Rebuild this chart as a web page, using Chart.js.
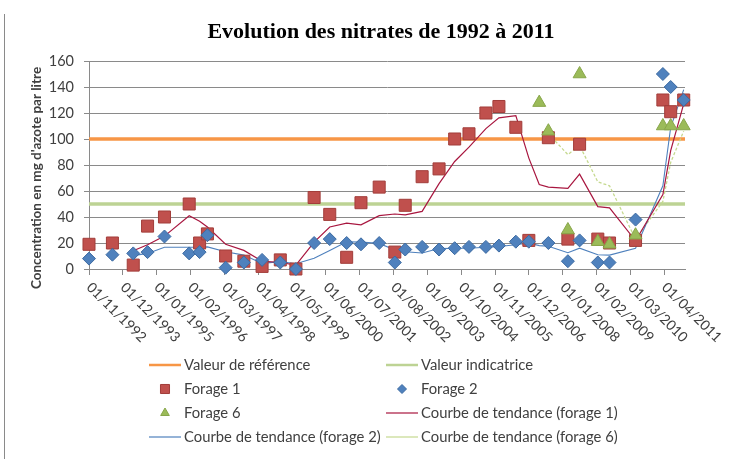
<!DOCTYPE html>
<html lang="fr">
<head>
<meta charset="utf-8">
<title>Evolution des nitrates de 1992 à 2011</title>
<script src="https://cdn.jsdelivr.net/npm/chart.js@4.4.1/dist/chart.umd.min.js"></script>
<style>
  body { margin: 0; background: #fff; }
  #cadre { position: relative; width: 743px; height: 459px; }
  #cadre::before { content: ""; position: absolute; left: 4px; top: 14px; bottom: 0; width: 1px; background: #8a8a8a; }
</style>
</head>
<body>
<div id="cadre"><canvas id="graphique" width="743" height="459"></canvas></div>
<script>
// Evolution des nitrates de 1992 à 2011
// axe X : nombre de mois écoulés depuis le 01/11/1992

const titre = "Evolution des nitrates de 1992 à 2011";
const titreY = "Concentration en mg d'azote par litre";

const etiquettesX = ["01/11/1992", "01/12/1993", "01/01/1995", "01/02/1996", "01/03/1997", "01/04/1998",
  "01/05/1999", "01/06/2000", "01/07/2001", "01/08/2002", "01/09/2003", "01/10/2004",
  "01/11/2005", "01/12/2006", "01/01/2008", "01/02/2009", "01/03/2010", "01/04/2011"];
const finAxeX = 229; // fin de l'axe, un peu après le 01/04/2011

const valeurReference = 100;
const valeurIndicatrice = 50;

// forages 1 et 2 : prélevés aux mêmes dates
const moisF12 = [0, 9, 17, 22.5, 29, 38.5, 42.5, 45.5, 52.5, 59.5, 66.5, 73.5, 79.5, 86.5, 92.5, 99,
  104.5, 111.5, 117.5, 121.5, 128, 134.5, 140.5, 146, 152.5, 157.5, 164, 169, 176.5, 184, 188.5,
  195.5, 200, 210, 220.5, 223.5, 228.5];
const forage1 = [19, 20, 3, 33, 40, 50, 20, 27, 10, 6, 2, 7, 0, 55, 42, 9, 51, 63, 13, 49, 71, 77,
  100, 104, 120, 125, 109, 22, 101, 23, 96, 23, 20, 22, 130, 121, 130];
const forage2 = [8, 11, 12, 13, 25, 12, 13, 26, 1, 5, 7, 5, 0, 20, 23, 20, 19, 20, 5, 15, 17, 15,
  16, 17, 17, 18, 21, 21, 20, 6, 22, 5, 5, 38, 150, 140, 130];

const moisF6 = [173, 176.5, 184, 188.5, 195.5, 200, 210, 220.5, 223.5, 228.5];
const forage6 = [128, 106, 30, 150, 21, 19, 26, 110, 110, 110];

// courbes de tendance (moyennes mobiles)
const moisTendance12 = [17, 22.5, 29, 38.5, 42.5, 45.5, 52.5, 59.5, 66.5, 73.5, 79.5, 86.5, 92.5, 99,
  104.5, 111.5, 117.5, 121.5, 128, 134.5, 140.5, 146, 152.5, 157.5, 164, 169, 173, 176.5, 184, 188.5,
  195.5, 200, 210, 220.5, 223.5, 228.5];
const tendance1 = [14, 18.7, 25.3, 41, 36.7, 32.3, 19, 14.3, 6, 5, 3, 20.7, 32.3, 35.3, 34, 41, 42.3,
  41.7, 44.3, 65.7, 82.7, 93.7, 108, 116.3, 118, 85.3, 65, 63, 62, 73, 48, 47, 21.7, 57.3, 91, 127];
const tendance2 = [10.3, 12, 16.7, 16.7, 16.7, 17, 13.3, 10.7, 4.3, 5.7, 4, 8.3, 14.3, 21, 20.7, 19.7,
  14.7, 13.3, 12.3, 15.7, 16, 16, 16.7, 17.3, 18.7, 20, 18, 17.5, 12.5, 16, 11, 10.7, 16, 64, 109, 138];
const moisTendance6 = [176.5, 184, 188.5, 195.5, 200, 210, 220.5, 223.5, 228.5];
const tendance6 = [104, 88, 95, 67, 64, 23, 52, 82, 106];

function points(xs, ys) {
  return ys.map((y, i) => ({ x: xs[i], y: y }));
}

// mois depuis le 01/11/1992 pour une date jj/mm/aaaa
function moisDepuisDebut(date) {
  const morceaux = date.split("/");
  return (Number(morceaux[2]) - 1992) * 12 + Number(morceaux[1]) - 11;
}
const moisEtiquettes = etiquettesX.map(moisDepuisDebut);

const gris = "#8a8a8a";
const texte = "#404040";

const jeux = [
  {
    label: "Valeur de référence",
    data: [{ x: 0, y: valeurReference }, { x: finAxeX, y: valeurReference }],
    showLine: true, borderColor: "#f79646", borderWidth: 3.5, pointRadius: 0, order: 7
  },
  {
    label: "Valeur indicatrice",
    data: [{ x: 0, y: valeurIndicatrice }, { x: finAxeX, y: valeurIndicatrice }],
    showLine: true, borderColor: "#bdd394", borderWidth: 3.5, pointRadius: 0, order: 8
  },
  {
    label: "Forage 1",
    data: points(moisF12, forage1),
    pointStyle: "rect", pointRadius: 8.5, backgroundColor: "#c0504d", borderColor: "#a23d3a",
    borderWidth: 1, order: 3, clip: false
  },
  {
    label: "Forage 2",
    data: points(moisF12, forage2),
    pointStyle: "rectRot", pointRadius: 6.5, backgroundColor: "#4f81bd", borderColor: "#3c6aa1",
    borderWidth: 1, order: 2, clip: false
  },
  {
    label: "Forage 6",
    data: points(moisF6, forage6),
    pointStyle: "triangle", pointRadius: 7.5, backgroundColor: "#9bbb59", borderColor: "#88a64a",
    borderWidth: 1, order: 1, clip: false
  },
  {
    label: "Courbe de tendance (forage 1)",
    data: points(moisTendance12, tendance1),
    showLine: true, borderColor: "#a8163f", borderWidth: 1.2, pointRadius: 0, order: 4
  },
  {
    label: "Courbe de tendance (forage 2)",
    data: points(moisTendance12, tendance2),
    showLine: true, borderColor: "#4f81bd", borderWidth: 1.1, pointRadius: 0, order: 5
  },
  {
    label: "Courbe de tendance (forage 6)",
    data: points(moisTendance6, tendance6),
    showLine: true, borderColor: "#c5d98f", borderWidth: 1.3, borderDash: [3, 2], pointRadius: 0, order: 6
  }
];

// titre, titre Y, étiquettes X inclinées et légende à deux colonnes
const habillage = {
  id: "habillage",
  afterDraw(chart) {
    const ctx = chart.ctx;
    const axeX = chart.scales.x;
    const axeY = chart.scales.y;
    ctx.save();

    ctx.fillStyle = "#000";
    ctx.font = "bold 22px 'Liberation Serif'";
    ctx.textAlign = "center";
    ctx.textBaseline = "middle";
    ctx.fillText(titre, 381, 32);

    ctx.save();
    ctx.translate(37, 178);
    ctx.rotate(-Math.PI / 2);
    ctx.fillStyle = texte;
    ctx.font = "bold 13.5px Lato";
    ctx.fillText(titreY, 0, 0);
    ctx.restore();

    ctx.fillStyle = texte;
    ctx.font = "14px Lato";
    ctx.textAlign = "left";
    etiquettesX.forEach((txt, i) => {
      ctx.save();
      ctx.translate(axeX.getPixelForValue(moisEtiquettes[i]), axeY.bottom + 16);
      ctx.rotate(Math.PI / 4);
      ctx.fillText(txt, 0, 0);
      ctx.restore();
    });

    const colonnes = [149, 386];
    const tailles = { rect: 6.4, rectRot: 4.5, triangle: 5 };
    chart.data.datasets.forEach((ds, k) => {
      const x0 = colonnes[k % 2];
      const y = 365 + Math.floor(k / 2) * 24;
      if (ds.pointRadius === 0) {
        ctx.strokeStyle = ds.borderColor;
        ctx.lineWidth = ds.borderWidth > 2 ? 2.5 : 1.2;
        ctx.beginPath();
        ctx.moveTo(x0, y);
        ctx.lineTo(x0 + 32, y);
        ctx.stroke();
      } else {
        ctx.fillStyle = ds.backgroundColor;
        ctx.strokeStyle = ds.borderColor;
        ctx.lineWidth = 1;
        Chart.helpers.drawPoint(ctx, {
          pointStyle: ds.pointStyle, radius: tailles[ds.pointStyle], rotation: 0, borderWidth: 1
        }, x0 + 16, y);
      }
      ctx.fillStyle = texte;
      ctx.font = "14.8px Lato";
      ctx.textAlign = "left";
      ctx.fillText(ds.label, x0 + 35, y);
    });

    ctx.restore();
  }
};

new Chart(document.querySelector("#graphique"), {
  type: "scatter",
  data: { datasets: jeux },
  options: {
    responsive: false,
    animation: false,
    layout: { padding: { top: 61, right: 58, left: 0, bottom: 0 } },
    plugins: {
      legend: { display: false },
      tooltip: { enabled: false },
      title: { display: false }
    },
    scales: {
      x: {
        type: "linear",
        min: 0,
        max: finAxeX,
        afterBuildTicks: scale => {
          scale.ticks = moisEtiquettes.map(v => ({ value: v }));
        },
        afterFit: scale => { scale.height = 190; },
        ticks: { display: false },
        grid: { drawOnChartArea: false, drawTicks: true, tickLength: 6, color: gris },
        border: { color: gris }
      },
      y: {
        min: 0,
        max: 160,
        afterFit: scale => { scale.width = 89; },
        ticks: { stepSize: 20, padding: 10, color: texte, font: { family: "Lato", size: 14.5 } },
        grid: { color: gris, tickLength: 5 },
        border: { color: gris }
      }
    }
  },
  plugins: [habillage]
});
</script>
</body>
</html>
